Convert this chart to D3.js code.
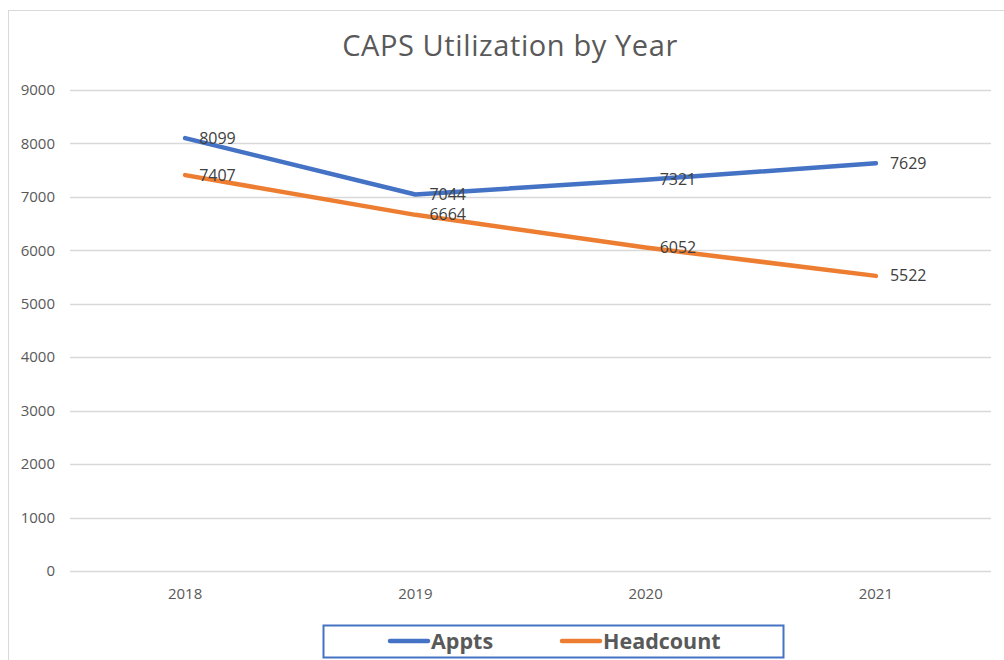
<!DOCTYPE html>
<html>
<head>
<meta charset="utf-8">
<script src="https://cdn.jsdelivr.net/npm/d3@7"></script>
<style>
  body { margin: 0; background: #fff; }
  svg { display: block; font-family: "Open Sans", "Noto Sans", sans-serif; }
</style>
</head>
<body>
<div id="chart"></div>
<script>
// Chart data
const years = ['2018', '2019', '2020', '2021'];
const appts = [8099, 7044, 7321, 7629];
const headcount = [7407, 6664, 6052, 5522];
const yTicks = [0, 1000, 2000, 3000, 4000, 5000, 6000, 7000, 8000, 9000];
const seriesNames = ['Appts', 'Headcount'];

const width = 1004;
const height = 660;
const margin = { top: 90, right: 13, bottom: 89, left: 70 };

const svg = d3.select('#chart')
  .append('svg')
  .attr('width', width)
  .attr('height', height);

// chart frame
svg.append('rect')
  .attr('x', 8.5).attr('y', 10.5)
  .attr('width', 1010).attr('height', 670)
  .attr('fill', '#fff')
  .attr('stroke', '#d9d9d9');

// title
svg.append('text')
  .attr('x', 510).attr('y', 56)
  .attr('text-anchor', 'middle')
  .attr('font-size', 29)
  .attr('letter-spacing', 0.6)
  .attr('fill', '#595959')
  .text('CAPS Utilization by Year');

const x = d3.scaleBand()
  .domain(years)
  .range([margin.left, width - margin.right]);

const y = d3.scaleLinear()
  .domain([0, 9000])
  .range([height - margin.bottom, margin.top]);

// gridlines
svg.append('g')
  .selectAll('line')
  .data(yTicks)
  .join('line')
  .attr('x1', margin.left).attr('x2', width - margin.right)
  .attr('y1', d => Math.round(y(d)) + 0.5)
  .attr('y2', d => Math.round(y(d)) + 0.5)
  .attr('stroke', '#d9d9d9')
  .attr('stroke-width', 1.5);

// y axis labels
svg.append('g')
  .selectAll('text')
  .data(yTicks)
  .join('text')
  .attr('x', 55)
  .attr('y', d => y(d))
  .attr('dy', '0.35em')
  .attr('text-anchor', 'end')
  .attr('font-size', 15)
  .attr('fill', '#595959')
  .text(d => d);

// x axis labels
svg.append('g')
  .selectAll('text')
  .data(years)
  .join('text')
  .attr('x', d => x(d) + x.bandwidth() / 2)
  .attr('y', height - margin.bottom + 28)
  .attr('text-anchor', 'middle')
  .attr('font-size', 15)
  .attr('fill', '#595959')
  .text(d => d);

const series = [
  { name: seriesNames[0], values: appts, color: '#4472C4' },
  { name: seriesNames[1], values: headcount, color: '#ED7D31' },
];

const line = d3.line()
  .x((d, i) => x(years[i]) + x.bandwidth() / 2)
  .y(d => y(d));

svg.append('g')
  .selectAll('path')
  .data(series)
  .join('path')
  .attr('d', d => line(d.values))
  .attr('fill', 'none')
  .attr('stroke', d => d.color)
  .attr('stroke-width', 4.5)
  .attr('stroke-linejoin', 'round')
  .attr('stroke-linecap', 'round');

// data labels, placed to the right of each point
series.forEach(s => {
  svg.append('g')
    .selectAll('text')
    .data(s.values)
    .join('text')
    .attr('x', (d, i) => x(years[i]) + x.bandwidth() / 2 + 14)
    .attr('y', d => y(d))
    .attr('dy', '0.35em')
    .attr('font-size', 16)
    .attr('fill', '#404040')
    .text(d => d);
});

// legend
const legend = svg.append('g');
legend.append('rect')
  .attr('x', 323.5).attr('y', 625.5)
  .attr('width', 460).attr('height', 32)
  .attr('fill', '#fff')
  .attr('stroke', '#4472C4')
  .attr('stroke-width', 2);

const legendX = [390, 562];
series.forEach((s, i) => {
  legend.append('line')
    .attr('x1', legendX[i]).attr('x2', legendX[i] + 38)
    .attr('y1', 641).attr('y2', 641)
    .attr('stroke', s.color)
    .attr('stroke-width', 4.5)
    .attr('stroke-linecap', 'round');
  legend.append('text')
    .attr('x', legendX[i] + 41)
    .attr('y', 641)
    .attr('dy', '0.35em')
    .attr('font-size', 21.5)
    .attr('font-weight', 'bold')
    .attr('fill', '#595959')
    .text(s.name);
});
</script>
</body>
</html>
